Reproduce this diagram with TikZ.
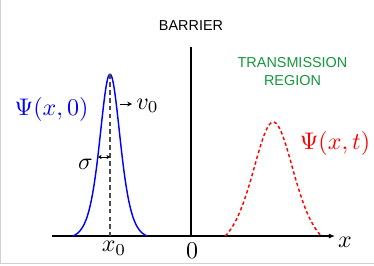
\documentclass[tikz,border=0pt]{standalone}
\usepackage{fontspec}
\newfontfamily\capsfont{Liberation Sans}
\usetikzlibrary{arrows.meta}
\definecolor{transgreen}{RGB}{20,150,60}

\begin{document}
\begin{tikzpicture}[x=4.1667pt,y=4.1667pt,
		caps/.style={font=\capsfont\fontsize{6}{7.5}\selectfont,align=center},
		packet/.style={line width=0.6pt},
		smallarrow/.style={line width=0.4pt,-{Stealth[length=2pt,width=2pt]}}]
			\useasboundingbox (-19.1,-2.9) rectangle (18.3,23.6);
			\draw[black!18,line width=0.4pt] (-19.03,23.6) -- (-19.03,-2.7) -- (18.3,-2.7);
			% axis and barrier
			\coordinate (xstart) at (-13.9,0);
			\coordinate (xend) at (14.4,0);
			\coordinate (o) at (0,0);
			\coordinate (btop) at (0,18.9);
			\draw[line width=0.7pt,-{Latex[length=2.6pt,width=2.2pt]}] (xstart) -- (xend);
			\draw[line width=0.7pt] (o) -- (btop);
			\node[caps] (barrier) at (0,21.0) {BARRIER};
			\node[caps,text=transgreen] (trans) at (10.15,16.4) {TRANSMISSION\\REGION};
			\node (xlab) at (15.4,-0.65) {$x$};
			\node (x0lab) at (-7.7,-1.25) {$x_0$};
			\node (zero) at (0.1,-1.45) {$0$};
			% incoming packet
			\draw[blue,packet] plot[domain=-3.7:3.7,samples=90,smooth]
				({-8.1+\x},{16.2*(1/cosh(\x/1.38)^2-0.0186)/0.9814});
			\coordinate (peak) at (-8.1,16.2);
			\coordinate (x0) at (-8.1,0);
			\draw[black!70,line width=0.5pt,dash pattern=on 2pt off 1.3pt] (peak) -- (x0);
			\node[blue] (psi0) at (-13.95,12.7) {$\Psi(x,0)$};
			\coordinate (vtail) at (-7.1,13.2);
			\coordinate (vtip) at (-5.9,13.2);
			\draw[smallarrow] (vtail) -- (vtip);
			\node (vlab) at (-4.35,13.0) {$v_0$};
			\coordinate (sl) at (-9.3,7.9);
			\coordinate (sr) at (-8.1,7.9);
			\draw[line width=0.4pt,{Stealth[length=1.5pt,width=1.8pt]}-{Stealth[length=1.5pt,width=1.8pt]}] (sl) -- (sr);
			\node (slab) at (-10.55,7.2) {$\sigma$};
			% transmitted packet
			\draw[red,packet,dash pattern=on 1.4pt off 1.1pt] plot[domain=-4.8:4.8,samples=90,smooth]
				({8.23+\x},{11.4*(1/cosh(\x/2.8)^2-0.1217)/0.8783});
			\node[red] (psit) at (14.4,9.25) {$\Psi(x,t)$};
		\end{tikzpicture}
\end{document}
